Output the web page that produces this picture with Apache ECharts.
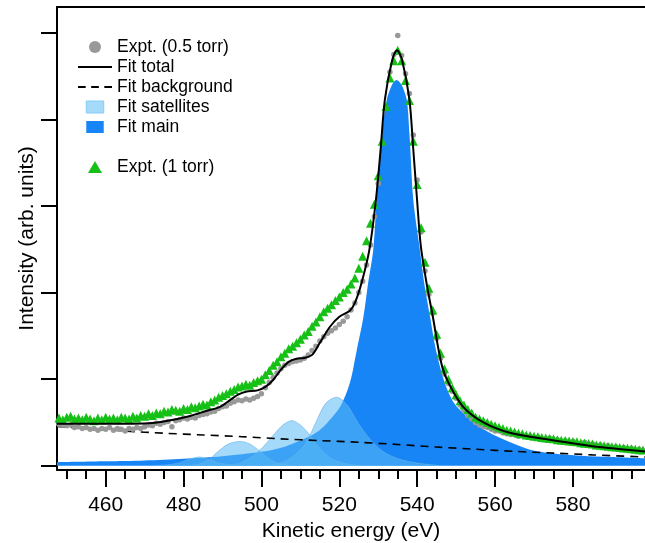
<!DOCTYPE html>
<html>
<head>
<meta charset="utf-8">
<script src="https://cdn.jsdelivr.net/npm/echarts@6/dist/echarts.min.js"></script>
<style>
  html, body { margin: 0; padding: 0; background: #fff; }
  #chart { width: 645px; height: 543px; }
</style>
</head>
<body>
<div id="chart"></div>
<script>
// axis ticks
const xMajorTicks = [460, 480, 500, 520, 540, 560, 580]
const xMinorTicks = [450, 455, 460, 465, 470, 475, 480, 485, 490, 495, 500, 505, 510, 515, 520, 525,
  530, 535, 540, 545, 550, 555, 560, 565, 570, 575, 580, 585, 590, 595]
const yTicks = [0, 1, 2, 3, 4, 5]

// measured spectra (kinetic energy in eV)
const expEnergy = [448, 449, 450, 451, 452, 453, 454, 455, 456, 457,
  458, 459, 460, 461, 462, 463, 464, 465, 466, 467,
  468, 469, 470, 471, 472, 473, 474, 475, 476, 477,
  478, 479, 480, 481, 482, 483, 484, 485, 486, 487,
  488, 489, 490, 491, 492, 493, 494, 495, 496, 497,
  498, 499, 500, 501, 502, 503, 504, 505, 506, 507,
  508, 509, 510, 511, 512, 513, 514, 515, 516, 517,
  518, 519, 520, 521, 522, 523, 524, 525, 526, 527,
  528, 529, 530, 531, 532, 533, 534, 535, 536, 537,
  538, 539, 540, 541, 542, 543, 544, 545, 546, 547,
  548, 549, 550, 551, 552, 553, 554, 555, 556, 557,
  558, 559, 560, 561, 562, 563, 564, 565, 566, 567,
  568, 569, 570, 571, 572, 573, 574, 575, 576, 577,
  578, 579, 580, 581, 582, 583, 584, 585, 586, 587,
  588, 589, 590, 591, 592, 593, 594, 595, 596, 597,
  598]

const expt05 = [0.48, 0.47, 0.46, 0.47, 0.44, 0.45, 0.43, 0.44, 0.42, 0.43,
  0.41, 0.43, 0.42, 0.44, 0.41, 0.43, 0.42, 0.40, 0.43, 0.42,
  0.44, 0.43, 0.45, 0.47, 0.46, 0.49, 0.48, 0.50, 0.51, 0.45,
  0.52, 0.53, 0.55, 0.54, 0.56, 0.55, 0.58, 0.59, 0.60, 0.62,
  0.63, 0.66, 0.68, 0.69, 0.72, 0.74, 0.76, 0.75, 0.77, 0.76,
  0.78, 0.80, 0.83, 0.90, 0.96, 1.02, 1.07, 1.12, 1.16, 1.18,
  1.20, 1.21, 1.22, 1.24, 1.28, 1.33, 1.38, 1.44, 1.49, 1.53,
  1.56, 1.59, 1.63, 1.67, 1.72, 1.80, 1.88, 2.00, 2.13, 2.32,
  2.55, 2.88, 3.26, 3.73, 4.13, 4.55, 4.75, 4.97, 4.74, 4.53,
  4.30, 3.82, 3.30, 2.70, 2.25, 1.98, 1.76, 1.47, 1.24, 1.06,
  0.95, 0.86, 0.78, 0.70, 0.64, 0.58, 0.54, 0.50, 0.47, 0.45,
  0.44, 0.42, 0.40, 0.40, 0.38, 0.37, 0.36, 0.36, 0.34, 0.35,
  0.33, 0.34, 0.32, 0.33, 0.31, 0.30, 0.32, 0.29, 0.30, 0.28,
  0.29, 0.27, 0.28, 0.26, 0.25, 0.27, 0.24, 0.25, 0.23, 0.24,
  0.22, 0.23, 0.21, 0.22, 0.20, 0.21, 0.19, 0.20, 0.18, 0.19,
  0.17]

const expt1 = [0.55, 0.53, 0.56, 0.57, 0.54, 0.55, 0.53, 0.56, 0.54, 0.52,
  0.55, 0.53, 0.56, 0.54, 0.55, 0.53, 0.56, 0.55, 0.54, 0.57,
  0.55, 0.58, 0.57, 0.60, 0.58, 0.61, 0.60, 0.63, 0.62, 0.65,
  0.64, 0.63, 0.66, 0.65, 0.68, 0.67, 0.69, 0.71, 0.70, 0.74,
  0.76, 0.79, 0.81, 0.83, 0.86, 0.88, 0.91, 0.92, 0.94, 0.93,
  0.96, 0.98, 1.00, 1.05, 1.10, 1.16, 1.20, 1.26, 1.30, 1.35,
  1.38, 1.42, 1.46, 1.51, 1.55, 1.61, 1.66, 1.72, 1.78, 1.82,
  1.86, 1.91, 1.95, 2.00, 2.04, 2.10, 2.17, 2.28, 2.42, 2.60,
  2.80, 3.02, 3.35, 3.75, 4.15, 4.48, 4.68, 4.80, 4.68, 4.45,
  4.22, 3.75, 3.25, 2.75, 2.35, 2.05, 1.80, 1.52, 1.30, 1.12,
  1.00, 0.90, 0.82, 0.75, 0.70, 0.65, 0.61, 0.56, 0.54, 0.52,
  0.50, 0.48, 0.46, 0.445, 0.43, 0.41, 0.40, 0.39, 0.375, 0.37,
  0.355, 0.35, 0.34, 0.335, 0.325, 0.32, 0.315, 0.31, 0.30, 0.295,
  0.29, 0.285, 0.28, 0.275, 0.265, 0.26, 0.255, 0.25, 0.24, 0.235,
  0.23, 0.225, 0.22, 0.215, 0.21, 0.205, 0.20, 0.195, 0.19, 0.185,
  0.18]

// fit components
const totalE = [447.5, 455, 465, 471, 476, 481.7, 486, 489.4, 492, 494, 496, 499, 501, 503, 505, 507,
  509, 511, 513, 515, 517.6, 520, 522.7, 524, 525.7, 527.7, 529.4, 530.6, 531.7, 533.6, 534.8,
  536.1, 538, 539, 540, 540.9, 542.4, 544.1, 545.4, 546.5, 548, 551.8, 557, 563.8, 574, 586, 598.5]
const totalV = [0.485, 0.485, 0.485, 0.49, 0.52, 0.575, 0.635, 0.68, 0.76, 0.82, 0.855, 0.87, 0.91, 0.99, 1.11, 1.20,
  1.235, 1.245, 1.28, 1.42, 1.605, 1.72, 1.79, 1.88, 2.11, 2.49, 3.07, 3.65, 4.23, 4.69, 4.80,
  4.69, 4.23, 3.65, 3.05, 2.55, 2.11, 1.70, 1.36, 1.13, 0.96, 0.68, 0.50, 0.38, 0.30, 0.22, 0.165]

const bgE = [447.5, 455, 465, 475, 485, 495, 505, 515, 525, 535, 545, 555, 565, 575, 585, 598.5]
const bgV = [0.454, 0.43, 0.40, 0.375, 0.355, 0.335, 0.31, 0.29, 0.27, 0.245, 0.215, 0.19, 0.165, 0.145, 0.125, 0.10]

const mainE = [447.5, 460, 470, 480, 490, 500, 506, 510, 514, 517, 520.2, 522.7, 524.5, 526.2, 527.4, 528.7,
  529.6, 531.0, 532.2, 533.5, 534.7, 536.0, 537.3, 538.0, 539.0, 540.7, 541.8, 543.3, 544.8, 547.1,
  549.5, 552.7, 556, 560.4, 565, 569, 575, 582, 590, 598.5]
const mainV = [0.04, 0.05, 0.06, 0.08, 0.11, 0.16, 0.22, 0.29, 0.38, 0.50, 0.68, 0.955, 1.34, 1.72, 2.11, 2.49,
  3.07, 3.84, 4.23, 4.40, 4.457, 4.40, 4.23, 3.84, 3.07, 2.49, 2.11, 1.72, 1.34, 0.955,
  0.72, 0.57, 0.45, 0.34, 0.25, 0.185, 0.14, 0.115, 0.10, 0.085]

const sat1E = [472, 476, 479, 481.5, 484, 486.5, 489, 492, 496]
const sat1V = [0, 0.01, 0.035, 0.075, 0.10, 0.075, 0.035, 0.01, 0]
const sat2E = [481, 484, 486.5, 489, 491.5, 494.5, 497, 499.5, 502, 504.5, 508]
const sat2V = [0, 0.02, 0.07, 0.17, 0.25, 0.28, 0.25, 0.17, 0.08, 0.025, 0]
const sat3E = [492, 495, 498, 500.5, 503, 505.5, 507.8, 510, 512.5, 515, 518, 522, 526]
const sat3V = [0, 0.04, 0.12, 0.22, 0.35, 0.47, 0.52, 0.47, 0.35, 0.2, 0.08, 0.02, 0]
const sat4E = [502, 506, 509, 511.5, 514, 516.5, 519.3, 522, 525, 528, 531, 535, 540, 546]
const sat4V = [0, 0.05, 0.14, 0.27, 0.50, 0.72, 0.79, 0.70, 0.48, 0.30, 0.17, 0.08, 0.03, 0]

const font = 'Liberation Sans, Arial, Helvetica, sans-serif'
const satFill = 'rgba(90, 185, 245, 0.55)'
const satEdge = 'rgba(100, 180, 235, 0.8)'
const mainColor = '#1785f5'
const rectIcon = 'path://M0,0 H16 V11 H0 Z'
const triIcon = 'path://M7,0 L14,12 L0,12 Z'
const solidIcon = 'path://M0,0 H34 V2 H0 Z'
const dashIcon = 'path://M0,0 H7 V2 H0 Z M12,0 H19 V2 H12 Z M24,0 H31 V2 H24 Z'

const pairs = (xs, ys) => xs.map((x, i) => [x, ys[i]])

const satSeries = [[sat1E, sat1V], [sat2E, sat2V], [sat3E, sat3V], [sat4E, sat4V]].map(([e, v]) => ({
  name: 'Fit satellites',
  type: 'line',
  data: pairs(e, v),
  symbol: 'none',
  smooth: 0.3,
  color: satFill,
  lineStyle: { color: satEdge, width: 0.8 },
  areaStyle: { color: satFill, opacity: 1 },
  z: 3
}))

const axisLineStyle = { color: '#000', width: 2 }
const legendText = { fontSize: 17.5, color: '#000', fontFamily: font }

const chart = echarts.init(document.getElementById('chart'))

chart.setOption({
  animation: false,
  backgroundColor: '#fff',
  textStyle: { fontFamily: font },
  grid: { left: 57, right: 0, top: 7, bottom: 73, containLabel: false, outerBoundsMode: 'none' },
  legend: [
    {
      orient: 'vertical',
      left: 78,
      top: 38,
      padding: 0,
      itemWidth: 34,
      itemHeight: 12,
      itemGap: 2,
      selectedMode: false,
      textStyle: legendText,
      data: [
        { name: 'Expt. (0.5 torr)', icon: 'circle' },
        { name: 'Fit total', icon: solidIcon, itemStyle: { color: '#000', borderWidth: 0 } },
        { name: 'Fit background', icon: dashIcon, itemStyle: { color: '#000', borderWidth: 0 } },
        { name: 'Fit satellites', icon: rectIcon, itemStyle: { color: '#a6dafa', borderColor: '#86cbf5', borderWidth: 1 } },
        { name: 'Fit main', icon: rectIcon, itemStyle: { color: mainColor, borderWidth: 0 } }
      ]
    },
    {
      orient: 'vertical',
      left: 88,
      top: 158,
      padding: 0,
      itemWidth: 34,
      itemHeight: 12,
      selectedMode: false,
      textStyle: legendText,
      data: [{ name: 'Expt. (1 torr)', icon: triIcon, itemStyle: { color: '#16c016', opacity: 1 } }]
    }
  ],
  xAxis: [
    {
      type: 'value',
      position: 'bottom',
      min: 447.5,
      max: 598.5,
      axisLine: { show: true, onZero: false, lineStyle: axisLineStyle },
      axisTick: { show: true, length: 9, customValues: xMinorTicks, lineStyle: axisLineStyle },
      axisLabel: { customValues: xMajorTicks, fontSize: 21, color: '#000', margin: 25, fontFamily: font },
      splitLine: { show: false },
      name: 'Kinetic energy (eV)',
      nameLocation: 'middle',
      nameGap: 45,
      nameTextStyle: { fontSize: 21, color: '#000', fontFamily: font }
    },
    {
      type: 'value',
      position: 'bottom',
      min: 447.5,
      max: 598.5,
      axisLine: { show: false, onZero: false },
      axisTick: { show: true, length: 17, customValues: xMajorTicks, lineStyle: axisLineStyle },
      axisLabel: { show: false },
      splitLine: { show: false }
    },
    {
      type: 'value',
      position: 'top',
      min: 447.5,
      max: 598.5,
      axisLine: { show: true, onZero: false, lineStyle: axisLineStyle },
      axisTick: { show: false },
      axisLabel: { show: false },
      splitLine: { show: false }
    }
  ],
  yAxis: {
    type: 'value',
    min: -0.05,
    max: 5.3,
    axisLine: { show: true, onZero: false, lineStyle: axisLineStyle },
    axisTick: { show: true, length: 16, customValues: yTicks, lineStyle: axisLineStyle },
    axisLabel: { show: false },
    splitLine: { show: false },
    name: 'Intensity (arb. units)',
    nameLocation: 'middle',
    nameGap: 19,
    nameTextStyle: { fontSize: 21, color: '#000', fontFamily: font }
  },
  series: [
    {
      name: 'Fit main',
      type: 'line',
      data: pairs(mainE, mainV),
      symbol: 'none',
      smooth: 0.3,
      color: mainColor,
      lineStyle: { width: 0 },
      areaStyle: { color: mainColor, opacity: 1 },
      z: 2
    },
    ...satSeries,
    {
      name: 'Fit background',
      type: 'line',
      data: pairs(bgE, bgV),
      symbol: 'none',
      smooth: 0.3,
      color: '#000',
      lineStyle: { color: '#000', width: 1.6, type: [8, 6] },
      z: 4
    },
    {
      name: 'Expt. (0.5 torr)',
      type: 'scatter',
      data: pairs(expEnergy, expt05),
      symbol: 'circle',
      symbolSize: 5.5,
      itemStyle: { color: '#999999', opacity: 1 },
      z: 5
    },
    {
      name: 'Expt. (1 torr)',
      type: 'scatter',
      data: pairs(expEnergy, expt1),
      symbol: 'triangle',
      symbolSize: 9,
      itemStyle: { color: '#16c016', opacity: 1 },
      z: 6
    },
    {
      name: 'Fit total',
      type: 'line',
      data: pairs(totalE, totalV),
      symbol: 'none',
      smooth: 0.3,
      color: '#000',
      lineStyle: { color: '#000', width: 2 },
      z: 7
    }
  ]
})

window.addEventListener('resize', () => chart.resize())
</script>
</body>
</html>
